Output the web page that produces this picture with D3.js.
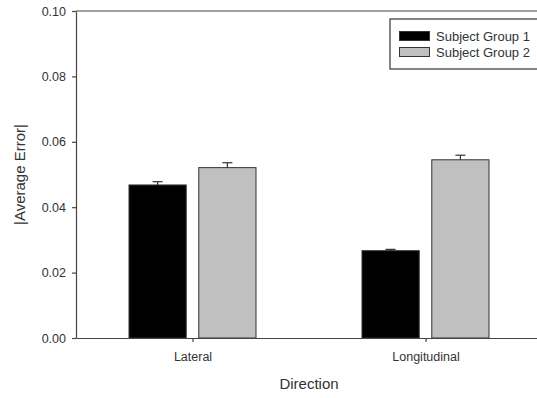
<!DOCTYPE html>
<html>
<head>
<meta charset="utf-8">
<script src="https://cdn.jsdelivr.net/npm/d3@7"></script>
<style>
  body { margin: 0; background: #fff; }
  text { font-family: "Liberation Sans", Arial, sans-serif; fill: #333; }
</style>
</head>
<body>
<script>
let directions = ["Lateral", "Longitudinal"];
let groups = ["Subject Group 1", "Subject Group 2"];
let group1Values = [0.0468, 0.0267];
let group1Errors = [0.0010, 0.0004];
let group2Values = [0.0521, 0.0545];
let group2Errors = [0.0015, 0.0014];
let yTicks = [0, 0.02, 0.04, 0.06, 0.08, 0.10];

let fills = ["#000000", "#c0c0c0"];

let width = 537,
    height = 398,
    margin = {top: 11, right: -5, bottom: 60, left: 76};

let svg = d3.select("body").append("svg")
    .attr("width", width)
    .attr("height", height);

let y = d3.scaleLinear()
    .domain([0, 0.10])
    .range([height - margin.bottom, margin.top]);

let x = d3.scalePoint()
    .domain(directions)
    .range([margin.left, width - margin.right])
    .padding(0.5);

let xSub = d3.scaleBand()
    .domain(groups)
    .range([-63.5, 63.5])
    .paddingInner(0.18);

let data = [];
directions.forEach((d, i) => {
    data.push({dir: d, group: groups[0], value: group1Values[i], err: group1Errors[i]});
    data.push({dir: d, group: groups[1], value: group2Values[i], err: group2Errors[i]});
});

// bars
svg.append("g").selectAll("rect")
    .data(data)
    .enter().append("rect")
    .attr("x", d => x(d.dir) + xSub(d.group))
    .attr("y", d => y(d.value))
    .attr("width", xSub.bandwidth())
    .attr("height", d => y(0) - y(d.value))
    .attr("fill", d => fills[groups.indexOf(d.group)])
    .attr("stroke", "#333")
    .attr("stroke-width", 1);

// error bars (upper only)
let eb = svg.append("g").attr("stroke", "#333").attr("stroke-width", 1.2);
data.forEach(d => {
    let cx = x(d.dir) + xSub(d.group) + xSub.bandwidth() / 2;
    eb.append("line")
        .attr("x1", cx).attr("x2", cx)
        .attr("y1", y(d.value)).attr("y2", y(d.value + d.err));
    eb.append("line")
        .attr("x1", cx - 5).attr("x2", cx + 5)
        .attr("y1", y(d.value + d.err)).attr("y2", y(d.value + d.err));
});

// axes
let yAxis = svg.append("g")
    .attr("transform", "translate(" + margin.left + ",0)")
    .call(d3.axisLeft(y).tickValues(yTicks).tickFormat(d3.format(".2f")).tickSize(4).tickSizeOuter(0).tickPadding(6));

let xAxis = svg.append("g")
    .attr("transform", "translate(0," + y(0) + ")")
    .call(d3.axisBottom(x).tickSize(4).tickSizeOuter(0).tickPadding(10));

[yAxis, xAxis].forEach(a => {
    a.selectAll("path, line").attr("stroke", "#444").attr("stroke-width", 1.2);
    a.selectAll("text").style("font-size", "12.5px").attr("fill", "#333");
});

// top frame line
svg.append("line")
    .attr("x1", margin.left).attr("x2", width - margin.right)
    .attr("y1", y(0.10)).attr("y2", y(0.10))
    .attr("stroke", "#444").attr("stroke-width", 1.2);

// axis titles
svg.append("text")
    .attr("x", (margin.left + width - margin.right) / 2)
    .attr("y", 389)
    .attr("text-anchor", "middle")
    .style("font-size", "15px")
    .text("Direction");

svg.append("text")
    .attr("transform", "translate(25," + (y(0.05)) + ") rotate(-90)")
    .attr("text-anchor", "middle")
    .style("font-size", "15px")
    .text("|Average Error|");

// legend
let legend = svg.append("g").attr("transform", "translate(390,19)");
legend.append("rect")
    .attr("width", 152).attr("height", 50)
    .attr("fill", "#fff").attr("stroke", "#333").attr("stroke-width", 1.2);
groups.forEach((g, i) => {
    legend.append("rect")
        .attr("x", 9.5).attr("y", 12.5 + i * 16)
        .attr("width", 30).attr("height", 9)
        .attr("fill", fills[i]).attr("stroke", "#333");
    legend.append("text")
        .attr("x", 46).attr("y", 17 + i * 16)
        .attr("dy", "0.35em")
        .style("font-size", "13px")
        .text(g);
});
</script>
</body>
</html>
